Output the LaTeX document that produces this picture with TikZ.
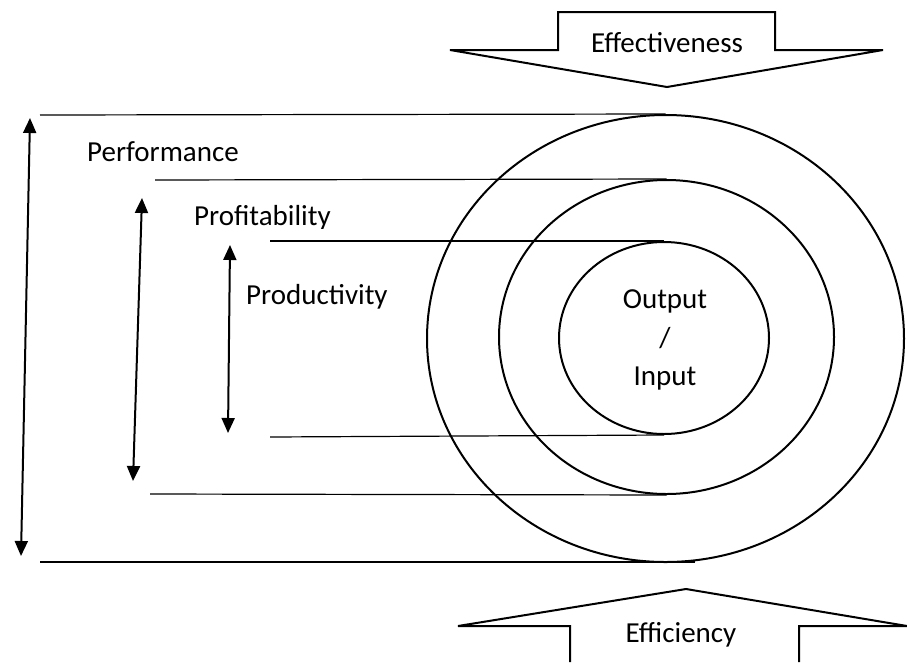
\documentclass[tikz,border=0pt]{standalone}
\usepackage{fontspec}
\setmainfont{Carlito}
\usetikzlibrary{shapes.geometric,arrows.meta}
\begin{document}
\begin{tikzpicture}[x=1pt,y=-1pt,
  ring/.style={draw,ellipse,line width=2pt,inner sep=0pt},
  guide/.style={line width=1.2pt},
  span/.style={line width=2pt,{Triangle[width=13pt,length=15pt]}-{Triangle[width=13pt,length=15pt]}},
  bigarrow/.style={line width=2pt,fill=white,line join=miter},
  lbl/.style={font=\fontsize{29}{38}\selectfont,inner sep=0pt}]
\useasboundingbox (0,0) rectangle (907,662);
% rings
\node[ring,minimum width=477pt,minimum height=447pt] (outer) at (665.5,338.5) {};
\node[ring,minimum width=335pt,minimum height=314pt] (middle) at (666.5,337) {};
\node[ring,minimum width=210pt,minimum height=192pt] (inner) at (664,338) {};
\node[lbl,anchor=base] (o) at (665,308) {Output};
\node[lbl,anchor=base] (sl) at (665,347) {/};
\node[lbl,anchor=base] (i) at (665,385) {Input};
% guide lines
\coordinate (l1) at (40,115);
\coordinate (l2) at (155,180);
\coordinate (l3) at (270,241);
\coordinate (l4) at (270,437);
\coordinate (l5) at (150,494);
\coordinate (l6) at (40,562);
\coordinate (r6) at (695,562);
\draw[guide] (l1) -- (outer.north);
\draw[guide] (l2) -- (middle.north);
\draw[guide] (l3) -- (inner.north);
\draw[guide] (l4) -- (inner.south);
\draw[guide] (l5) -- (middle.south);
\draw[guide] (l6) -- (r6);
% span arrows
\coordinate (a1t) at (30,118); \coordinate (a1b) at (21,556);
\coordinate (a2t) at (142,198); \coordinate (a2b) at (133,481);
\coordinate (a3t) at (230,245); \coordinate (a3b) at (228,433);
\draw[span] (a1t) -- (a1b);
\draw[span] (a2t) -- (a2b);
\draw[span] (a3t) -- (a3b);
% labels
\node[lbl,anchor=base west] (perf) at (87,161) {Performance};
\begin{scope}
\clip (150,190) rectangle (400,228);
\node[lbl,anchor=base west] (prof) at (194,225) {Profitability};
\end{scope}
\node[lbl,anchor=base west] (prod) at (246,304) {Productivity};
% effectiveness arrow
\draw[bigarrow] (450,50) -- (558,50) -- (558,12) -- (775,12) -- (775,50) -- (883,50) -- (667,87) -- cycle;
\node[lbl,anchor=base] (eff) at (667,52) {Effectiveness};
% efficiency arrow
\fill[white] (570,662) -- (570,626) -- (458,626) -- (686,589) -- (907,626) -- (799,626) -- (799,662) -- cycle;
\draw[line width=2pt,line join=miter] (570,662) -- (570,626) -- (458,626) -- (686,589) -- (907,626) -- (799,626) -- (799,662);
\node[lbl,anchor=base] (effi) at (681,642) {Efficiency};
\end{tikzpicture}
\end{document}
